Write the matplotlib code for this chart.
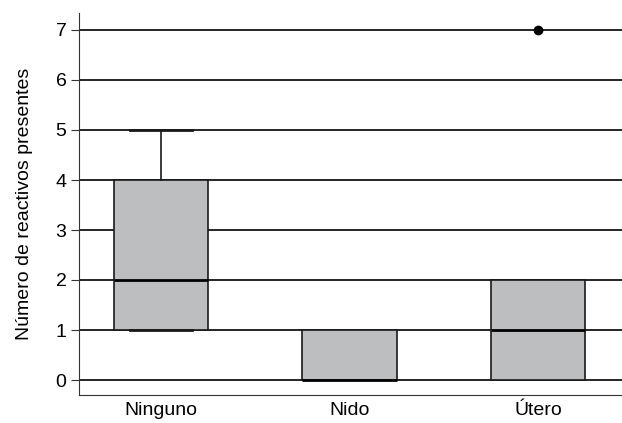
import matplotlib
matplotlib.use("Agg")
from matplotlib import pyplot as plt

# box statistics
categories = ["Ninguno", "Nido", "Útero"]
q1 = [1, 0, 0]
medians = [2, 0, 1]
q3 = [4, 1, 2]
whis_lo = [1, 0, 0]
whis_hi = [5, 1, 2]
outliers = [[], [], [7]]

plt.rcParams['font.family'] = ['Liberation Sans', 'DejaVu Sans']

stats = []
for name, a, m, b, lo, hi, fl in zip(categories, q1, medians, q3, whis_lo, whis_hi, outliers):
    stats.append(dict(label=name, q1=a, med=m, q3=b, whislo=lo, whishi=hi, fliers=fl))

fig = plt.figure(figsize=(6.22, 4.23), dpi=100)
ax = fig.add_axes([79/622, 28/423, 1 - 79/622 + 0.01, (395-13)/423])

# caps only where a whisker actually sticks out of the box
caps = [0.33 if hi > b else 0.0 for hi, b in zip(whis_hi, q3)]

ax.bxp(stats, positions=range(len(stats)), widths=0.5, patch_artist=True,
       capwidths=caps,
       boxprops=dict(facecolor="#bdbec0", edgecolor="#1a1a1a", linewidth=1.2),
       medianprops=dict(color="black", linewidth=2),
       whiskerprops=dict(color="#1a1a1a", linewidth=1.2),
       capprops=dict(color="#1a1a1a", linewidth=2),
       flierprops=dict(marker="o", markerfacecolor="black", markeredgecolor="black", markersize=6),
       zorder=3)

ax.set_ylim(-0.3, 7.34)
ax.set_xlim(-0.435, 2.478)
ax.set_yticks(range(0, 8))
ax.yaxis.grid(True, color="black", linewidth=1.2, zorder=0)
ax.set_axisbelow(True)
ax.spines['top'].set_visible(False)
ax.spines['right'].set_visible(False)
ax.spines['left'].set_color("#333333")
ax.spines['bottom'].set_color("#333333")
ax.tick_params(axis='y', labelsize=14, length=6, color="#333333", pad=3)
ax.tick_params(axis='x', labelsize=14, length=0, pad=5)
ax.set_ylabel("Número de reactivos presentes", fontsize=14, labelpad=16)

fig.savefig("out.png", dpi=100)
